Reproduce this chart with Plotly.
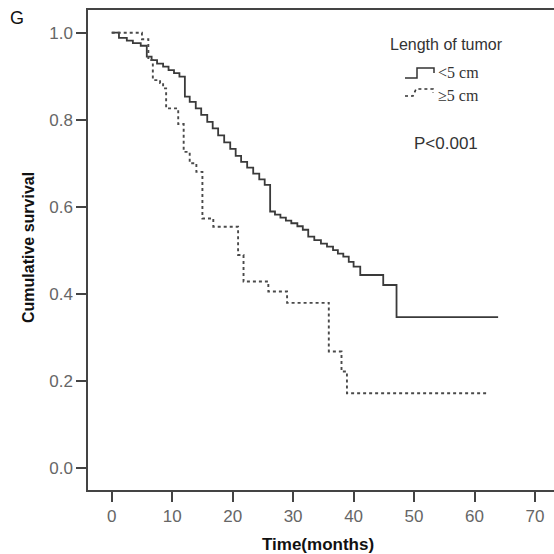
import plotly.graph_objects as go

# ---- data ----
solid_t = [0, 1.2, 2.5, 3.5, 4.8, 5.8, 6.6, 7.5, 8.5, 9.4, 10.3, 11.2, 12.1, 12.9, 13.9,
           14.8, 15.8, 16.7, 17.6, 18.6, 19.6, 20.5, 21.4, 22.4, 23.4, 24.4, 25.3, 26.2,
           27.0, 27.9, 28.8, 29.7, 30.7, 31.6, 32.5, 33.5, 34.6, 35.6, 36.6, 37.4, 38.3,
           39.2, 40.0, 41.1, 44.9, 47.1, 63.9]
solid_s = [1.0, 0.988, 0.982, 0.976, 0.970, 0.945, 0.937, 0.929, 0.922, 0.914, 0.907, 0.899,
           0.853, 0.841, 0.826, 0.811, 0.795, 0.780, 0.764, 0.748, 0.733, 0.717, 0.703, 0.690,
           0.676, 0.663, 0.650, 0.589, 0.582, 0.575, 0.568, 0.562, 0.555, 0.547, 0.531, 0.523,
           0.515, 0.508, 0.500, 0.492, 0.485, 0.473, 0.462, 0.443, 0.420, 0.346, 0.346]

dotted_t = [0, 5.0, 6.06, 6.8, 8.0, 8.5, 9.0, 11.0, 11.9, 12.9, 14.0, 15.0, 16.8, 20.9, 21.8,
            25.9, 29.0, 35.9, 38.0, 38.9, 62.0]
dotted_s = [1.0, 0.985, 0.937, 0.891, 0.884, 0.872, 0.826, 0.790, 0.726, 0.700, 0.680, 0.573,
            0.554, 0.489, 0.428, 0.405, 0.379, 0.267, 0.221, 0.171, 0.171]

x_ticks = [0, 10, 20, 30, 40, 50, 60, 70]
y_ticks = [0.0, 0.2, 0.4, 0.6, 0.8, 1.0]
y_tick_text = ["0.0", "0.2", "0.4", "0.6", "0.8", "1.0"]

W, H = 554, 554
ML, MR, MT, MB = 88, 0, 10, 64


def px(x, y):
    """pixel -> paper coords"""
    return (x - ML) / (W - ML - MR), (H - MB - y) / (H - MT - MB)


fig = go.Figure()
fig.add_trace(go.Scatter(x=solid_t, y=solid_s, mode="lines", line_shape="hv",
                         line=dict(color="#3a3a3a", width=1.8), showlegend=False))
fig.add_trace(go.Scatter(x=dotted_t, y=dotted_s, mode="lines", line_shape="hv",
                         line=dict(color="#4a4a4a", width=1.9, dash="dot"), showlegend=False))

SANS = "Liberation Sans, Arial, sans-serif"
SERIF = "Liberation Serif, Times New Roman, serif"

anns = []
def ann(text, x, y, size, color="#333333", family=SANS, xanchor="center", yanchor="middle", angle=0):
    xp, yp = px(x, y)
    anns.append(dict(text=text, x=xp, y=yp, xref="paper", yref="paper",
                     showarrow=False, xanchor=xanchor, yanchor=yanchor, textangle=angle,
                     font=dict(size=size, color=color, family=family)))

ann("G", 8, 18, 18, color="#111111", xanchor="left")
ann("Length of tumor", 446, 45, 16)
ann("&lt;5 cm", 436, 73, 16, family=SERIF, xanchor="left")
ann("≥5 cm", 436, 95, 16, family=SERIF, xanchor="left")
ann("P&lt;0.001", 446, 143, 17)
# axis titles
ann("<b>Time(months)</b>", 318, 544, 17, color="#111111")
ann("<b>Cumulative survival</b>", 28, 248, 16, color="#111111", angle=-90)

shapes = []
def path(points, dash="solid", width=1.5):
    d = ""
    for i, (x, y) in enumerate(points):
        xp, yp = px(x, y)
        d += ("M" if i == 0 else "L") + f"{xp},{yp} "
    shapes.append(dict(type="path", path=d, xref="paper", yref="paper",
                       line=dict(color="#333333", width=width, dash=dash)))

path([(405, 78), (417, 78), (417, 68), (434, 68), (434, 73)])
path([(405, 96), (413, 96), (416, 89), (430, 89), (433, 89), (433, 93)], dash="dot", width=1.6)

fig.update_layout(
    width=W, height=H,
    margin=dict(l=ML, r=MR, t=MT, b=MB, autoexpand=False),
    paper_bgcolor="white", plot_bgcolor="white",
    annotations=anns, shapes=shapes, hovermode=False,
    xaxis=dict(range=[-3.92, 73.14], tickvals=x_ticks, ticks="outside", ticklen=10,
               tickwidth=1.5, tickcolor="#444444", showline=True, linecolor="#444444",
               linewidth=1.5, mirror=True, showgrid=False, zeroline=False, automargin=False,
               tickfont=dict(size=17, color="#666666", family=SANS)),
    yaxis=dict(range=[-0.0513, 1.0522], tickvals=y_ticks, ticktext=y_tick_text, ticks="outside",
               ticklen=10, tickwidth=1.5, tickcolor="#444444", showline=True,
               linecolor="#444444", linewidth=1.5, mirror=False, showgrid=False,
               zeroline=False, automargin=False,
               tickfont=dict(size=17, color="#666666", family=SANS)),
)

fig.write_html("out.html", config={"displayModeBar": False},
               post_script="document.body.style.margin='0';document.body.style.overflow='hidden';")
